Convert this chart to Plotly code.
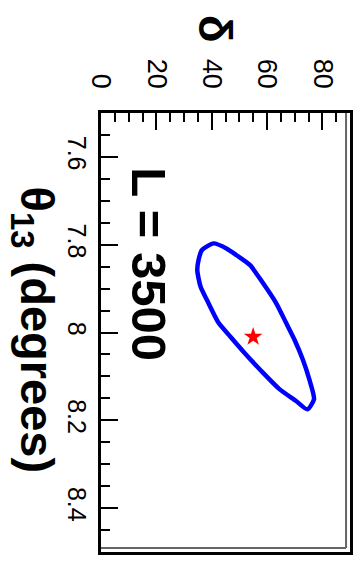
import plotly.graph_objects as go

# contour (delta in degrees, theta13 in degrees)
delta_contour = [40.7, 45.5, 49.0, 53.8, 58.6, 63.3, 66.9, 69.9, 72.9, 75.3, 77.0,
                 74.6, 70.5, 64.5, 58.6, 51.4, 46.7, 42.5, 38.3, 36.0, 34.8, 35.4, 36.5, 40.7]
theta_contour = [7.797, 7.809, 7.824, 7.846, 7.888, 7.933, 7.978, 8.016, 8.061, 8.107, 8.152,
                 8.175, 8.156, 8.129, 8.092, 8.043, 8.009, 7.978, 7.926, 7.896, 7.858, 7.831, 7.812, 7.797]
best_delta = [55.0]
best_theta = [8.01]

delta_ticks = [0, 20, 40, 60, 80]
delta_tick_labels = ["0", "20", "40", "60", "80"]
theta_ticks = [7.6, 7.8, 8.0, 8.2, 8.4]
theta_tick_labels = ["7.6", "7.8", "8", "8.2", "8.4"]

FONT = "Liberation Sans"

fig = go.Figure()
fig.add_trace(go.Scatter(x=delta_contour, y=theta_contour, mode="lines",
                         line=dict(color="#0000ff", width=4.5, shape="spline", smoothing=0.6),
                         hoverinfo="skip", showlegend=False))
fig.add_trace(go.Scatter(x=best_delta, y=best_theta, mode="markers",
                         marker=dict(symbol="star", size=14, color="#ff0000"),
                         showlegend=False))

fig.update_layout(
    width=360, height=562,
    margin=dict(l=101, r=7, t=113, b=8),
    plot_bgcolor="white", paper_bgcolor="white",
    font=dict(family=FONT, color="black"),
    xaxis=dict(
        side="top", range=[0, 90], tickvals=delta_ticks, ticktext=delta_tick_labels,
        tickangle=90, tickfont=dict(size=27, family=FONT), ticklabelstandoff=12,
        ticks="inside", ticklen=17, tickwidth=2, tickcolor="black",
        minor=dict(dtick=5, ticks="inside", ticklen=9, tickwidth=2, tickcolor="black"),
        showline=True, linecolor="black", linewidth=2.5, mirror=True,
        showgrid=False, zeroline=False,
    ),
    yaxis=dict(
        range=[8.5, 7.5], tickvals=theta_ticks, ticktext=theta_tick_labels,
        tickangle=90, tickfont=dict(size=25, family=FONT),
        ticks="inside", ticklen=17, tickwidth=2, tickcolor="black",
        minor=dict(dtick=0.05, ticks="inside", ticklen=9, tickwidth=2, tickcolor="black"),
        showline=True, linecolor="black", linewidth=2.5, mirror=True,
        showgrid=False, zeroline=False,
    ),
)

# inner grey double-frame lines on right and bottom
fig.add_shape(type="line", xref="paper", yref="paper", x0=1 - 4/252, x1=1 - 4/252, y0=4/441, y1=1,
              line=dict(color="#666666", width=2))
fig.add_shape(type="line", xref="paper", yref="paper", x0=0, x1=1 - 4/252, y0=4/441, y1=4/441,
              line=dict(color="#666666", width=2))

fig.add_annotation(text="<b>δ</b>", xref="paper", yref="paper", x=0.456, y=1.193,
                   textangle=90, showarrow=False, xanchor="center", yanchor="middle",
                   font=dict(size=46, family=FONT))
fig.add_annotation(text="<b>θ<sub>13</sub> (degrees)</b>", xref="paper", yref="paper",
                   x=-0.27, y=0.505, textangle=90, showarrow=False,
                   xanchor="center", yanchor="middle", font=dict(size=47, family=FONT))
fig.add_annotation(text="<b>L = 3500</b>", xref="paper", yref="paper", x=0.19, y=0.655,
                   textangle=90, showarrow=False, xanchor="center", yanchor="middle",
                   font=dict(size=49, family=FONT))

fig.write_html("out.html")
